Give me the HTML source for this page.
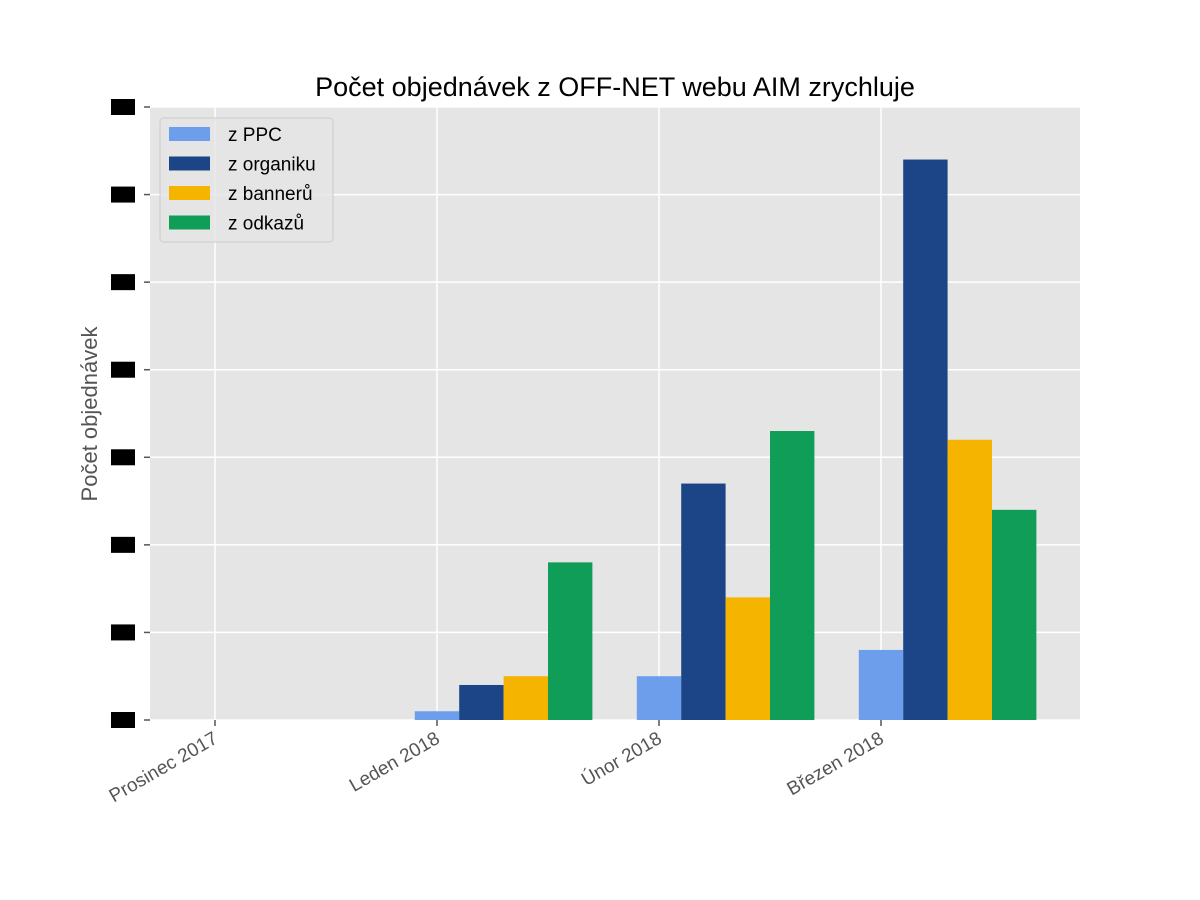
<!DOCTYPE html>
<html><head><meta charset="utf-8">
<style>
body{margin:0;background:#fff;}
svg{display:block;font-family:"Liberation Sans",sans-serif;}
</style></head>
<body>
<svg id="chart" width="1200" height="900">
<rect width="1200" height="900" fill="#fff"/>
<text x="615" y="96" text-anchor="middle" font-size="27" fill="#000">Počet objednávek z OFF-NET webu AIM zrychluje</text>
<rect x="150" y="107" width="930" height="613" fill="#e5e5e5"/>
<g id="grid"></g>
<g id="bars"></g>
<g id="axes"></g>
<text transform="translate(97,414) rotate(-90)" text-anchor="middle" font-size="22" fill="#555">Počet objednávek</text>
<g id="legend"></g>
</svg>
<script>
const categories = ["Prosinec 2017","Leden 2018","Únor 2018","Březen 2018"];
const seriesNames = ["z PPC","z organiku","z bannerů","z odkazů"];
const ppc = [0,1,5,8];
const organic = [0,4,27,64];
const banners = [0,5,14,32];
const links = [0,18,33,24];
const yTicks = [0,10,20,30,40,50,60,70];
const colors = ["#6d9eeb","#1c4587","#f4b400","#0f9d58"];
const series = [ppc,organic,banners,links];
const NS="http://www.w3.org/2000/svg";
const L=150,R=1080,T=107,B=720;
const yMax=70;
const y=v=>B-(v/yMax)*(B-T);
const step=222, x0=215;
const x=i=>x0+i*step;
function mk(tag,attrs,parent){const e=document.createElementNS(NS,tag);for(const k in attrs)e.setAttribute(k,attrs[k]);parent.appendChild(e);return e;}
const grid=document.getElementById('grid'),bars=document.getElementById('bars'),axes=document.getElementById('axes'),legend=document.getElementById('legend');
yTicks.forEach((t,i)=>{
  const g=mk('line',{x1:L,x2:R,y1:y(t),y2:y(t),stroke:'#fff','stroke-width':1.5},grid);
  
  
  const tk=mk('line',{x1:144,x2:150,y1:y(t),y2:y(t),stroke:'#555','stroke-width':1.5},axes);
  
  
  const lb=mk('rect',{x:111,y:y(t)-8,width:24,height:16,fill:'#000'},axes);
  
  
});
categories.forEach((c,i)=>{
  const g=mk('line',{x1:x(i),x2:x(i),y1:T,y2:B,stroke:'#fff','stroke-width':1.5},grid);
  
  
  const tk=mk('line',{x1:x(i),x2:x(i),y1:B,y2:B+6,stroke:'#555','stroke-width':1.5},axes);
  
  
  const t=mk('text',{x:x(i)+4,y:B+22,'text-anchor':'end','font-size':19,fill:'#555',transform:`rotate(-30 ${x(i)+4} ${B+22})`},axes);
  t.textContent=c;
  
  
});
const bw=step*0.2;
series.forEach((s,si)=>{
  s.forEach((v,i)=>{
    const bx=x(i)-bw+si*bw*0.0+ (si-0.5)*bw;
    const r=mk('rect',{x:x(i)-0.1*step+si*bw,y:y(v),width:bw,height:B-y(v),fill:colors[si]},bars);
    
    
  });
});
const lb=mk('rect',{x:160,y:118,width:173,height:124,rx:4,fill:'#e5e5e5','fill-opacity':0.8,stroke:'#ccc'},legend);


seriesNames.forEach((n,i)=>{
  const cy=134+i*29.5;
  const sw=mk('rect',{x:169,y:cy-7,width:41,height:14,fill:colors[i]},legend);
  
  
  const t=mk('text',{x:228,y:cy+7,'font-size':19,fill:'#000'},legend);
  t.textContent=n;
  
  
});
</script>
</body></html>
